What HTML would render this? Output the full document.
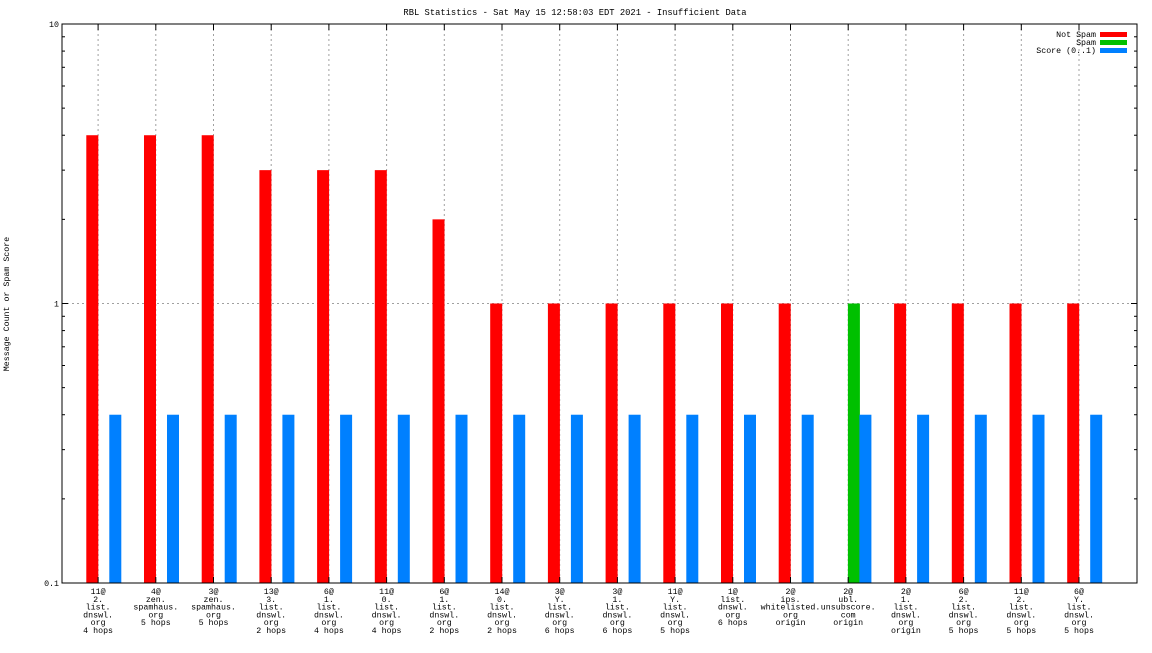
<!DOCTYPE html>
<html><head><meta charset="utf-8"><style>
body{margin:0;background:#fff;}
svg text{font-family:"Liberation Mono","DejaVu Sans Mono",monospace;font-size:8.3px;fill:#000;}
</style></head><body>
<svg id="chart" width="1152" height="648" xmlns="http://www.w3.org/2000/svg">
<text x="575" y="15" text-anchor="middle" style="font-size:8.8px">RBL Statistics - Sat May 15 12:58:03 EDT 2021 - Insufficient Data</text>
<text transform="translate(9,304) rotate(-90)" text-anchor="middle">Message Count or Spam Score</text>
<g id="grid"></g><g id="bars"></g><g id="axes"></g><g id="labels"></g>
<g>
<text x="1096" y="37" text-anchor="end">Not Spam</text><rect x="1100" y="32" width="27" height="5" fill="#ff0000"/>
<text x="1096" y="45" text-anchor="end">Spam</text><rect x="1100" y="40" width="27" height="5" fill="#00c000"/>
<text x="1096" y="53" text-anchor="end">Score (0..1)</text><rect x="1100" y="48" width="27" height="5" fill="#0080ff"/>
</g>
</svg>
<script>
const categories=[["11@","2.","list.","dnswl.","org","4 hops"],["4@","zen.","spamhaus.","org","5 hops"],["3@","zen.","spamhaus.","org","5 hops"],["13@","3.","list.","dnswl.","org","2 hops"],["6@","1.","list.","dnswl.","org","4 hops"],["11@","0.","list.","dnswl.","org","4 hops"],["6@","1.","list.","dnswl.","org","2 hops"],["14@","0.","list.","dnswl.","org","2 hops"],["3@","Y.","list.","dnswl.","org","6 hops"],["3@","1.","list.","dnswl.","org","6 hops"],["11@","Y.","list.","dnswl.","org","5 hops"],["1@","list.","dnswl.","org","6 hops"],["2@","ips.","whitelisted.","org","origin"],["2@","ubl.","unsubscore.","com","origin"],["2@","1.","list.","dnswl.","org","origin"],["6@","2.","list.","dnswl.","org","5 hops"],["11@","2.","list.","dnswl.","org","5 hops"],["6@","Y.","list.","dnswl.","org","5 hops"]];
const notSpam=[4,4,4,3,3,3,2,1,1,1,1,1,1,0,1,1,1,1];
const spam=[0,0,0,0,0,0,0,0,0,0,0,0,0,1,0,0,0,0];
const score=[0.4,0.4,0.4,0.4,0.4,0.4,0.4,0.4,0.4,0.4,0.4,0.4,0.4,0.4,0.4,0.4,0.4,0.4];
const yTicks=[0.1,1,10];
const yTickLabels=["0.1","1","10"];
const NS="http://www.w3.org/2000/svg";
const L=62,R=1137,T=24,B=583;
const y=v=>B-(Math.log10(v)+1)*(B-T)/2;
const gx=i=>86.3+57.7*i;
function mk(tag,attrs,parent){const e=document.createElementNS(NS,tag);for(const k in attrs)e.setAttribute(k,attrs[k]);document.getElementById(parent).appendChild(e);return e;}
yTicks.forEach((t,k)=>{
 if(k>0&&k<yTicks.length-1){const g=mk('line',{x1:L,x2:R,y1:y(t),y2:y(t),stroke:'#a0a0a0','stroke-dasharray':'2,3'},'grid');
 
 }
 const tl=mk('text',{x:L-3,y:y(t)+3,'text-anchor':'end'},'axes');tl.textContent=yTickLabels[k];
 
 
});
categories.forEach((c,i)=>{
 const cx=gx(i)+11.8;
 const g=mk('line',{x1:cx,x2:cx,y1:T,y2:B,stroke:'#a0a0a0','stroke-dasharray':'2,3'},'grid');
 
 
 mk('line',{x1:cx,x2:cx,y1:B,y2:B-6,stroke:'#000'},'axes');
 mk('line',{x1:cx,x2:cx,y1:T,y2:T+6,stroke:'#000'},'axes');
 if(notSpam[i]>0){const r=mk('rect',{x:gx(i),y:y(notSpam[i]),width:12,height:B-y(notSpam[i]),fill:'#ff0000'},'bars');
  
  }
 if(spam[i]>0){const r=mk('rect',{x:gx(i)+11.5,y:y(spam[i]),width:12,height:B-y(spam[i]),fill:'#00c000'},'bars');
  
  }
 if(score[i]>0){const r=mk('rect',{x:gx(i)+23,y:y(score[i]),width:12,height:B-y(score[i]),fill:'#0080ff'},'bars');
  
  }
 const t=mk('text',{'text-anchor':'middle'},'labels');
 
 
 c.forEach((s,j)=>{const ts=document.createElementNS(NS,'tspan');ts.setAttribute('x',cx);ts.setAttribute('y',594+j*7.8);ts.textContent=s;t.appendChild(ts);});
});
for(let d=0.1;d<10;d*=10){for(let m=1;m<10;m++){const v=d*m;const len=m===1?6:3;
 mk('line',{x1:L,x2:L+len,y1:y(v),y2:y(v),stroke:'#000'},'axes');
 mk('line',{x1:R,x2:R-len,y1:y(v),y2:y(v),stroke:'#000'},'axes');}}
mk('line',{x1:L,x2:L+6,y1:T,y2:T,stroke:'#000'},'axes');
const fr=mk('rect',{x:L,y:T,width:R-L,height:B-T,fill:'none',stroke:'#000'},'axes');


</script>
</body></html>
